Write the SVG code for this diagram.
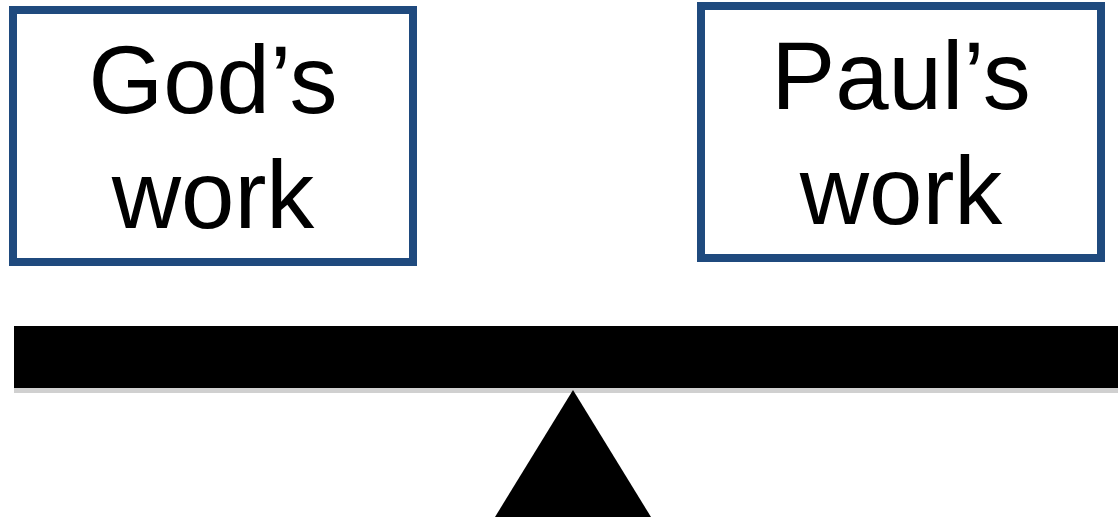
<svg xmlns="http://www.w3.org/2000/svg" width="1118" height="517" viewBox="0 0 1118 517">
<style>
.box{fill:#ffffff;stroke:#1f4a7e;stroke-width:8}
.lbl{font-family:"Liberation Sans",Arial,sans-serif;font-size:96px;fill:#000000;text-anchor:middle}
</style>
<rect width="1118" height="517" fill="#ffffff"/>
<g id="gods-work">
<rect class="box" x="13" y="10" width="400" height="252"/>
<text class="lbl" x="213" y="113">God’s</text>
<text class="lbl" x="213" y="228">work</text>
</g>
<g id="pauls-work">
<rect class="box" x="701" y="6" width="400" height="252"/>
<text class="lbl" x="901" y="109">Paul’s</text>
<text class="lbl" x="901" y="224">work</text>
</g>
<g id="beam">
<rect x="14" y="388" width="1104" height="5" fill="#d0d0d0"/>
<rect x="14" y="326" width="1104" height="62" fill="#000000"/>
</g>
<g id="fulcrum">
<polygon points="573,390 651,517 495,517" fill="#000000"/>
</g>
<g id="connectors"></g>
</svg>
